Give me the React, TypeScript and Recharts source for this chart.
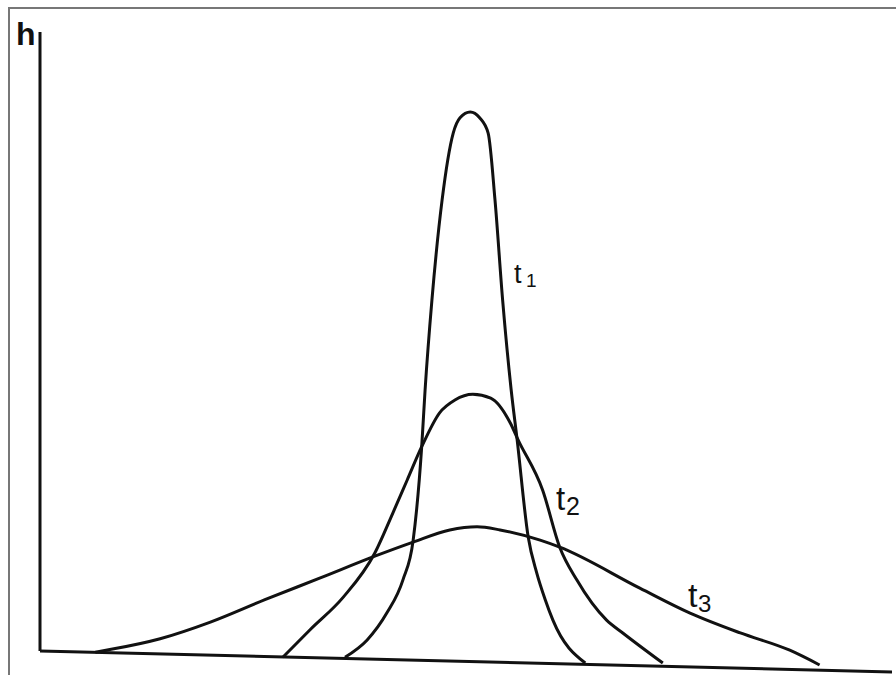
import { LineChart, Line, XAxis, YAxis, ReferenceLine } from "recharts"

// positions along the axis (0-100) and heights h (0-100)
const T1_X = [35.8, 38.4, 40.7, 42.6, 43.8, 44.8, 45.2, 46.0, 47.2, 48.5, 49.3, 50.5, 51.6, 52.6, 53.4, 54.3, 55.3, 56.0, 57.3, 58.3, 59.3, 60.2, 64.0]
const T1_H = [2.3, 5.0, 9.2, 14.4, 20.6, 35.2, 44.1, 58.1, 73.8, 84.2, 86.6, 87.5, 86.6, 84.2, 73.8, 58.1, 44.1, 36.3, 21.1, 15.5, 11.3, 8.1, 1.4]

const T2_X = [28.5, 31.7, 35.6, 39.3, 41.4, 43.1, 44.8, 46.9, 48.7, 50.8, 52.9, 55.2, 56.1, 59.0, 61.0, 63.0, 66.5, 68.4, 73.1]
const T2_H = [2.3, 6.6, 11.7, 18.6, 24.8, 30.0, 35.2, 40.5, 42.5, 43.4, 42.8, 38.9, 36.3, 28.4, 19.5, 14.4, 8.1, 6.1, 1.4]

const T3_X = [6.5, 8.2, 14.1, 20.0, 26.4, 32.9, 39.3, 43.8, 48.1, 51.3, 54.0, 58.7, 61.0, 70.4, 76.3, 82.2, 88.0, 91.5]
const T3_H = [3.1, 3.5, 5.2, 7.8, 11.3, 14.7, 18.1, 20.3, 22.2, 22.7, 22.2, 20.6, 19.5, 13.1, 9.2, 6.1, 3.4, 1.1]

const zip = (xs: number[], hs: number[]) => xs.map((x, i) => ({ x, h: hs[i] }))

const ink = "#111"

export default function App() {
  const curves = [zip(T1_X, T1_H), zip(T2_X, T2_H), zip(T3_X, T3_H)]

  return (
    <div style={{ position: "absolute", left: 0, top: 0, width: 896, height: 675, overflow: "hidden", background: "#fff" }}>
      <div style={{ position: "absolute", left: 8, top: 7, width: 888, height: 668, borderTop: "2px solid #777", borderLeft: "2px solid #777" }} />
      <LineChart width={896} height={675} margin={{ top: 32, right: 4, bottom: 3, left: 40 }}>
        <XAxis type="number" dataKey="x" domain={[0, 100]} hide />
        <YAxis type="number" dataKey="h" domain={[0, 100]} hide />
        <ReferenceLine segment={[{ x: 0, y: 3.3 }, { x: 0, y: 100 }]} stroke={ink} strokeWidth={3} ifOverflow="visible" />
        <ReferenceLine segment={[{ x: 0, y: 3.3 }, { x: 100, y: 0 }]} stroke={ink} strokeWidth={3} ifOverflow="visible" />
        {curves.map((d, i) => (
          <Line key={i} data={d} dataKey="h" type="monotone" stroke={ink} strokeWidth={3} dot={false} isAnimationActive={false} />
        ))}
      </LineChart>
      <svg width={896} height={675} style={{ position: "absolute", left: 0, top: 0, pointerEvents: "none" }} fontFamily="Liberation Sans" fill={ink}>
        <text x={16} y={45} fontSize={32} fontWeight="bold">h</text>
        <text x={514} y={283} fontSize={27}>t</text>
        <text x={526} y={287} fontSize={19}>1</text>
        <text x={556} y={510} fontSize={33}>t</text>
        <text x={566} y={515} fontSize={25}>2</text>
        <text x={688} y={607} fontSize={34}>t</text>
        <text x={698} y={612} fontSize={24}>3</text>
      </svg>
    </div>
  )
}
